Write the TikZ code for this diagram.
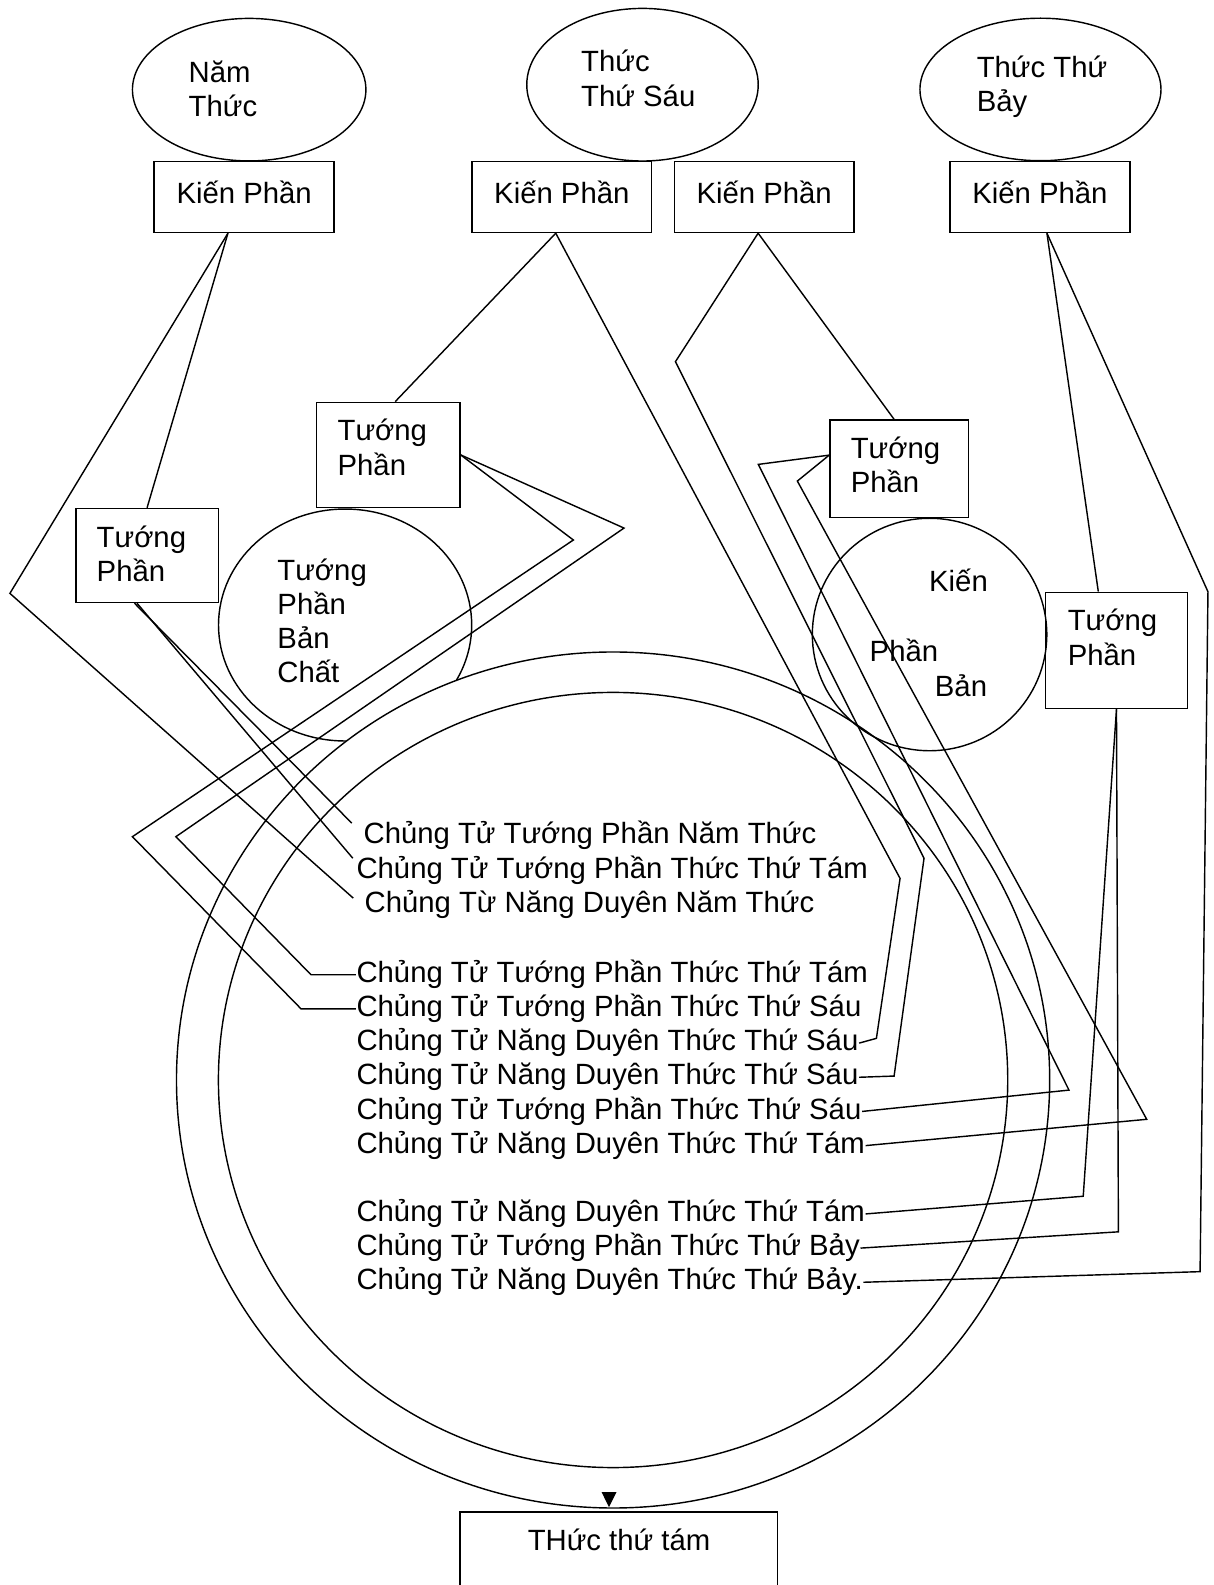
\documentclass[tikz,border=0pt]{standalone}
\usepackage{fontspec}
\setmainfont{Liberation Sans}
\usetikzlibrary{shapes.geometric,arrows.meta}

\tikzset{
  link/.style={line width=0.8pt},
  oval/.style={draw, ellipse, line width=0.8pt, inner sep=0pt},
  frame/.style={draw, rectangle, line width=0.8pt, inner sep=0pt},
  kien/.style={frame, minimum width=3.56cm, minimum height=1.4cm, text height=12pt, text depth=5.2pt},
  txt/.style={anchor=base west, inner sep=0pt, align=left},
  seed/.style={anchor=base west, inner sep=0pt, text height=0.45cm, text depth=0.15cm},
}

\begin{document}
\begin{tikzpicture}[x=0.02cm, y=-0.02cm, line width=0.8pt, font=\fontsize{16.5pt}{19.3pt}\selectfont]
    \useasboundingbox (0,0) rectangle (1200,1568);
    \clip (0,0) rectangle (1200,1568);

    % the three consciousnesses (text placed by its last line)
    \node[oval, minimum width=4.62cm, minimum height=2.82cm] (e5) at (246.5,88.7) {};
    \node[txt] (e5t) at (186,115.4) {Năm\\Thức};
    \node[oval, minimum width=4.58cm, minimum height=3.02cm] (e6) at (635.6,83.8) {};
    \node[txt] (e6t) at (574.3,105) {Thức\\Thứ Sáu};
    \node[oval, minimum width=4.77cm, minimum height=2.82cm] (e7) at (1029.3,88.5) {};
    \node[txt] (e7t) at (965.6,110.5) {Thức Thứ\\Bảy};

    % Kiến Phần
    \node[kien] (kp1) at (241.5,195) {Kiến Phần};
    \node[kien] (kp2) at (555.8,195) {Kiến Phần};
    \node[kien] (kp3) at (756,195) {Kiến Phần};
    \node[kien] (kp4) at (1028.7,195) {Kiến Phần};

    % Tướng Phần
    \node[frame, minimum width=2.84cm, minimum height=2.08cm] (tpA) at (384,450) {};
    \node[txt] (tpAt) at (333.3,470) {Tướng\\Phần};
    \node[frame, minimum width=2.82cm, minimum height=1.86cm] (tpB) at (145.5,549.5) {};
    \node[txt] (tpBt) at (95,575.4) {Tướng\\Phần};
    \node[frame, minimum width=2.74cm, minimum height=1.93cm] (tpC) at (889.5,463.75) {};
    \node[txt] (tpCt) at (841,487.4) {Tướng\\Phần};
    \node[frame, minimum width=2.8cm, minimum height=2.3cm] (tpD) at (1104.5,643.4) {};
    \node[txt] (tpDt) at (1055.6,658) {Tướng\\Phần};

    % essence circle, partly under the ring
    \node[oval, minimum width=5.01cm, minimum height=4.59cm] (tpbc) at (341.4,618.3) {};
    \node[txt] (tpbct) at (273.8,675.5) {Tướng\\Phần\\Bản\\Chất};

    % the ring of the eighth consciousness
    \node[oval, fill=white, minimum width=17.28cm, minimum height=16.94cm] (ringout) at (606.5,1068.4) {};
    \node[oval, minimum width=15.62cm, minimum height=15.34cm] (ringin) at (606.5,1068.4) {};

    \node[oval, minimum width=4.64cm, minimum height=4.6cm] (kpb) at (919.6,627.7) {};
    \node[txt] (kpb1) at (918.5,585.3) {Kiến};
    \node[txt] (kpb2) at (859.7,654.6) {Phần};
    \node[txt] (kpb3) at (924.2,689.2) {Bản};

    % seeds
    \node[seed] (s1) at (359,834.3) {Chủng Tử Tướng Phần Năm Thức};
    \node[seed] (s2) at (352,869) {Chủng Tử Tướng Phần Thức Thứ Tám};
    \node[seed] (s3) at (360,903) {Chủng Từ Năng Duyên Năm Thức};
    \foreach \i/\yb/\txt in {4/971.8/Chủng Tử Tướng Phần Thức Thứ Tám,
                             5/1005.6/Chủng Tử Tướng Phần Thức Thứ Sáu,
                             6/1039.4/Chủng Tử Năng Duyên Thức Thứ Sáu,
                             7/1073.2/Chủng Tử Năng Duyên Thức Thứ Sáu,
                             8/1107/Chủng Tử Tướng Phần Thức Thứ Sáu,
                             9/1140.8/Chủng Tử Năng Duyên Thức Thứ Tám,
                             10/1208.4/Chủng Tử Năng Duyên Thức Thứ Tám,
                             11/1242.2/Chủng Tử Tướng Phần Thức Thứ Bảy,
                             12/1276/Chủng Tử Năng Duyên Thức Thứ Bảy.} {
        \node[seed] (s\i) at (352,\yb) {\txt};
    }

    % Năm Thức
    \draw[link] ([xshift=-0.32cm]kp1.south) -- (9.8,587) -- ([shift={(-0.21cm,0.14cm)}]s3.west);
    \draw[link] ([xshift=-0.32cm]kp1.south) -- (tpB.north);
    \draw[link] ([xshift=-0.25cm]tpB.south) -- ([shift={(-0.22cm,0.25cm)}]s1.west);
    \draw[link] ([xshift=-0.2cm]tpB.south) -- ([shift={(-0.06cm,0.25cm)}]s2.west);

    % Thức Thứ Sáu
    \draw[link] (tpA.east) -- (567.2,534.2) -- (131,827.7) -- (297.8,998) -- (s5.west);
    \draw[link] (tpA.east) -- (617.3,522.4) -- (174,827.7) -- (307.7,964.3) -- (s4.west);
    \draw[link] ([xshift=-0.12cm]kp2.south) -- ([xshift=0.14cm]tpA.north);
    \draw[link] ([xshift=-0.12cm]kp2.south) -- (890.4,869) -- (867,1027.2) -- (s6.east);
    \draw[link] ([xshift=-0.12cm]kp3.south) -- (668.2,357.8) -- (914.1,849.1) -- (884.5,1064.5) -- (s7.east);
    \draw[link] ([xshift=-0.12cm]kp3.south) -- ([xshift=-0.1cm]tpC.north);
    \draw[link] ([yshift=0.27cm]tpC.west) -- (750.2,459.4) -- (1057.5,1078.4) -- (s8.east);
    \draw[link] ([yshift=0.27cm]tpC.west) -- (788.8,475.9) -- (1134.4,1107.3) -- (s9.east);

    % Thức Thứ Bảy
    \draw[link] ([xshift=0.14cm]kp4.south) -- ([xshift=-0.36cm]tpD.north);
    \draw[link] ([xshift=0.14cm]kp4.south) -- (1195,585.4) -- (1187.2,1258) -- (s12.east);
    \draw[link] (tpD.south) -- (1071.6,1183.4) -- (s10.east);
    \draw[link] (tpD.south) -- (1106.4,1218.6) -- (s11.east);

    % Thức thứ tám
    \node[frame, minimum width=6.28cm, minimum height=2.1cm, anchor=north] (t8) at (612,1495) {};
    \node[txt] (t8t) at (521.4,1533.5) {THức thứ tám};
    \draw[-{Triangle[length=0.3cm, width=0.29cm]}, shorten >=0.08cm]
        ([shift={(-0.19cm,0.38cm)}]t8.north) -- ([xshift=-0.19cm]t8.north);
\end{tikzpicture}
\end{document}
